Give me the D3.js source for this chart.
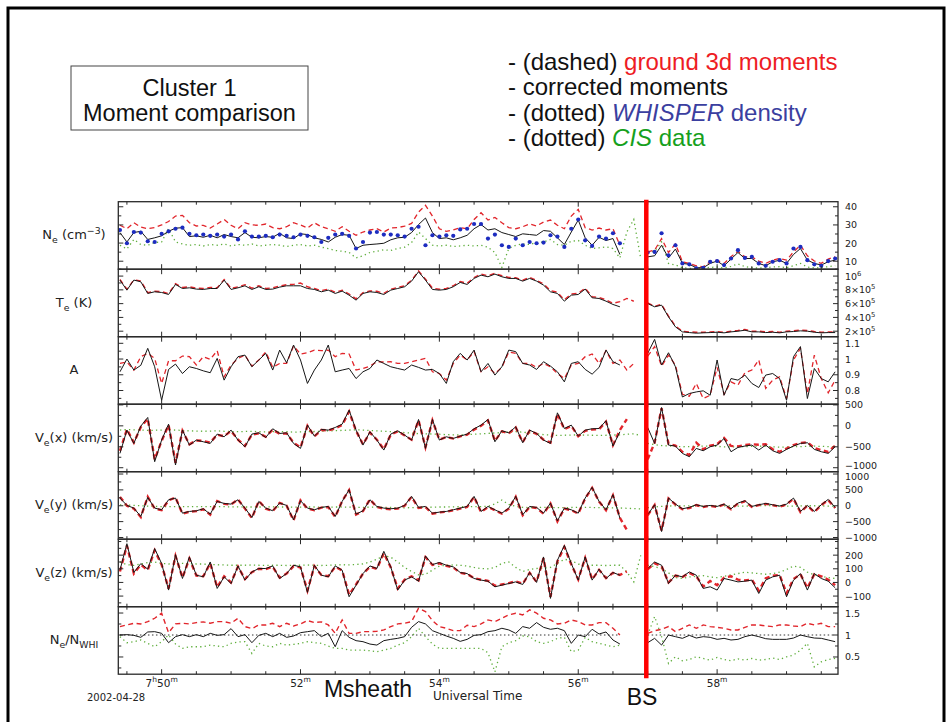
<!DOCTYPE html>
<html>
<head>
<meta charset="utf-8">
<script src="https://cdn.jsdelivr.net/npm/d3@7"></script>
<style>
  body { margin: 0; background: #fff; }
  svg { display: block; }
  .ax { font-family: "DejaVu Sans", sans-serif; fill: #222; }
  .slide { font-family: "Liberation Sans", Arial, sans-serif; }
</style>
</head>
<body>
<svg id="chart" width="952" height="722"></svg>
<script>
// time grid, minutes after 07:00 UT, 6 s samples
const step = 0.1;
const seg1Start = 49.4;   // magnetosheath interval
const seg2Start = 57.0;   // after the bow shock
const bowShockTime = 56.98;
const timeTicks = [50, 52, 54, 56, 58];
const timeTickLabels = ['7h50m', '52m', '54m', '56m', '58m'];

// Ne (cm^-3)
const neBlack1 = [25.8,20.6,25.8,26.5,22,22.9,24,26.5,28.2,28.5, 23.6,24,23.2,24.3,22.9,24.7,23.6,22.9,25.8,23.2, 22.9,23.6,23.2,25.4,22.9,22.5,25.1,24.7,22.9,22, 20.6,23.2,24.7,24.3,17,18.8,19.2,19.5,19.9,21.8, 22.9,23.2,25.8,30.2,33.8,25.8,22.5,22.9,21.8,22.9, 24.3,27.9,30.2,27.2,27.9,25.8,24.7,23.6,25.1, 24.7,24.3,26.9,26.5,22.9,19.2,26.1,32.7,22.9,18.8,23.2,21.4,22.5,13.7];
const neBlack2 = [12.4,13,18.8,11.8,16.7,8.8,8.3,6.4,6.4,8.8,10.1,7.5,11.2,14.8,11.5,11.5,8.8,7.5,9.7,10.5,8.8,13.7,17,10.6,8.8,7.9,9.7,10.6];
const neRed1 = [29.8,27.9,31.2,28.8,27.9,28.5,30,31.9,34.9,35.3, 31.2,29.4,29.8,28.3,30.5,33,29.8,27.9,31.2,30, 29.8,30.5,28.5,27.9,29,31.2,30,28.3,31.2,29, 27.9,26.5,29,26.5,24.3,26.1,27.2,27.9,26.1,28.3, 28.5,29.4,30.8,37.1,40.8,34.9,27.9,26.5,27.2,28.5, 27.9,33,36.7,32.7,34.1,31.2,28.5,27.9,29, 30.5,29.4,31.6,32.7,29.8,27.9,34.9,38.6,28.5,27.2,28.3,27.2,27.9,18.8];
const neRed2 = [15.1,16.1,22.5,14.8,19.5,9.7,8.8,7.5,6.9,9.7,10.6,8.8,12.4,15.5,12.4,12.4,10.1,8.8,10.6,11.5,10.6,15.1,18.8,13,10.1,8.8,11.2,12.4];
const neWhisper1 = [27.2,19.9,26.1,25.8,21,20.6,25.1,26.5,27.9,28.5, 25.1,24.3,24.7,24,24.7,23.6,24.7,22,26.5,23.6, 23.6,24,23.2,24.7,24,23.2,24.7,24,23.2,20.6, 22.9,24.7,25.1,24,17,20.6,25.8,26.1,24.7,24.7, 24.3,23.6,27.9,29,18.8,24.3,23.6,24.3,24,27.5, 27.9,30.5,30.5,22.5,24.7,18.8,17.9,22.5,18.8, 20.6,19.9,20.3,24.3,23.6,17.9,27.9,33,21.5,18.4,23.6,22.5,25.4,19.9];
const neWhisper2 = [14.8,15.1,25.4,13.3,18.8,8.8,8.3,6.1,6.4,9.7,10.1,7.9,11.5,16.1,11.8,12.4,8.8,7.5,9.7,10.6,8.8,17,17.9,10.6,8.3,7.5,10.1,11.5];
const neCis1 = [18.8,16.7,22,19.2,18.8,20.3,20.6,27.9,20.6,19.5, 18.8,19.2,18.4,19.2,18.8,19.5,18.4,19.2,18.8,19.5, 18.4,18.8,19.2,18.8,18.1,18.8,19.2,18.4,18.8,17.7, 17,15.9,15.5,14.8,11.8,13,14.8,15.5,16.3,15.9, 17,17.7,20.3,26.1,22.5,18.8,18.4,18.8,18.1,18.4, 18.8,18.4,18.8,17.7,14.8,6.6,17,18.8,19.5, 19.2,20.3,20.6,22,19.2,18.8,21,21.4,18.8,17,17.4,17.9,17,11.8,26.1,33,11.5];
const neCis2 = [14.8,15.5,20.6,8.8,7.9,6.4,6.1,6.1,6.3,6.6,6.8,6.2,7.2,8.5,7,6.5,6.2,6.5,6.8,7,6.4,7.5,8.8,6.8,6.3,6.5,7,7.5];

// Te (units of 1e5 K)
const teBlack1 = [9.42,7.96,9.42,9.17,7.48,7.72,7.62,7.33,8.79,8.2, 8.3,8.11,8.06,8.2,8.2,9.42,8.06,8.3,8.59,8.06, 8.45,8.06,8.11,8.4,8.59,8.59,8.59,8.2,8.06,7.72, 7.96,7.48,7.82,7.23,6.51,7.48,7.72,7.62,7.33,7.96, 8.2,8.45,9.27,10.63,9.42,8.06,7.96,8.06,8.45,9.08, 8.79,9.66,10.14,9.9,10.29,9.9,9.66,9.66,9.27, 9.66,9.27,8.69,7.72,7.48,6.36,7.23,7.33,8.11,6.85,6.75,6.36,5.88,5.54];
const teBlack2 = [6.02,5.54,5.78,4.08,2.63,1.9,1.8,1.71,1.76,1.8,1.85,1.76,1.9,2.0,2.14,1.9,1.9,1.8,1.85,1.76,1.9,1.95,2.05,2.0,1.85,1.76,1.8,1.8];
const teRed1 = [9.5,8.1,9.45,9.3,7.6,7.8,7.75,7.45,8.9,8.35, 8.45,8.25,8.2,8.35,8.3,9.5,8.2,8.45,8.75,8.25, 8.6,8.2,8.3,8.55,8.75,8.8,9.0,8.45,8.2,7.9, 8.1,7.65,7.95,7.4,6.7,7.6,7.85,7.8,7.5,8.1, 8.35,8.6,9.4,10.75,9.55,8.25,8.1,8.2,8.6,9.2, 8.95,9.8,10.3,10.05,10.4,10.05,9.8,9.75,9.4, 9.8,9.4,8.85,7.9,7.65,6.55,7.4,7.5,8.25,7.0,6.9,6.55,6.05,6.3,6.75,6.35];
const teRed2 = [6.1,5.6,5.9,4.2,2.75,2.0,1.9,1.85,1.85,1.9,1.95,1.85,2.0,2.1,2.25,2.0,2.0,1.9,1.95,1.85,2.0,2.05,2.15,2.1,1.95,1.85,1.9,1.9];

// anisotropy A
const aBlack1 = [0.919,1.0,0.93,0.96,1.068,0.951,0.738,0.934,0.968,0.908, 0.951,0.94,0.925,0.913,1.004,0.866,0.951,1.015,1.025,0.951, 0.994,1.036,0.93,1.057,0.976,1.089,0.994,0.845,0.93,0.994, 1.089,0.919,0.93,0.94,0.876,0.919,0.94,0.994,0.972,0.951, 0.94,0.93,0.962,0.947,0.93,0.934,0.908,0.845,0.983,1.036, 0.994,1.057,0.919,0.972,0.898,0.951,1.057,1.047,0.972, 0.962,0.934,0.983,0.955,0.919,0.855,0.972,0.983,0.934,0.904,0.947,1.057,0.983,0.962];
const aBlack2 = [1.036,1.125,0.962,1.04,0.951,0.759,0.781,0.791,0.798,0.77, 0.994,0.77,0.876,0.866,0.898,0.845,0.819,0.898,0.908,0.876, 0.738,1.015,1.079,0.749,0.94,0.876,0.855,0.919];
const aRed1 = [0.972,0.981,0.93,1.015,1.036,1.004,0.845,0.989,0.989,1.019, 1.015,0.962,1.015,0.998,1.053,0.887,0.962,1.004,1.025,0.955, 0.994,1.045,0.947,0.972,0.972,1.083,1.032,1.04,1.057,1.053, 1.057,1.015,1.036,1.032,0.93,0.94,0.955,0.983,0.981,0.983, 0.972,0.972,0.983,0.994,1.004,0.919,0.908,0.866,0.972,1.025, 0.994,1.047,0.919,0.951,0.908,0.947,1.045,1.036,0.972, 0.972,0.947,0.972,0.951,0.908,0.876,0.962,0.972,1.015,1.032,0.972,1.053,0.972,0.994,0.93,0.972];
const aRed2 = [1.019,1.079,0.955,1.025,0.962,0.776,0.764,0.845,0.749,0.77,0.947,0.776,0.855,0.834,0.913,0.93,0.994,0.813,0.866,0.887,0.749,0.994,1.068,0.781,1.025,0.876,0.785,0.866];

// Ve(x) km/s
const vxBlack1 = [-658,-102,-420,-7,200,-856,-340,41,-935,-102, -459,-340,-380,-420,-197,-261,-102,-340,-499,-197, -166,-277,-70,-182,-166,-420,-539,17,-245,-86, -102,-39,41,374,-102,-459,-142,-340,-578,-197, -118,-221,-340,152,-539,152,-340,-261,-301,-245, -197,-70,17,152,-380,-118,-166,-23,-404, -102,-182,-340,-420,311,-63,17,-245,-102,-70,-63,120,-483,-142];
const vxBlack2 = [-39,-420,438,-459,-483,-658,-737,-539,-594,-499,-459,-301,-618,-515,-483,-459,-578,-459,-594,-658,-562,-483,-420,-404,-562,-618,-658,-499];
const vxRed1 = [-600,-80,-400,-30,170,-800,-360,20,-880,-120, -440,-350,-360,-400,-210,-250,-120,-330,-480,-210, -180,-260,-90,-190,-180,-400,-520,0,-250,-100, -110,-60,20,340,-120,-440,-160,-330,-560,-210, -130,-230,-330,130,-510,130,-330,-270,-300,-250, -210,-90,0,130,-360,-130,-180,-40,-390,-120, -190,-330,-400,290,-80,0,-250,-120,-90,-80, 100,-460,-100,160];
const vxRed2 = [-800,-400,420,-430,-470,-620,-700,-400,-560,-470,-440,-290,-480,-490,-460,-440,-450,-440,-560,-620,-540,-460,-410,-390,-530,-580,-620,-470];
const vxCis1 = [-100,-90,-95,-100,-110,-105,-100,-95,-100,-110, -120,-125,-130,-125,-120,-130,-135,-140,-135,-130, -140,-145,-140,-135,-140,-150,-145,-140,-135,-130, -120,-115,-110,-100,-95,-100,-110,-120,-130,-140, -150,-160,-175,-185,-190,-195,-200,-210,-215,-220, -210,-200,-190,-180,-170,-160,-150,-140,-150,-170, -190,-210,-220,-230,-225,-220,-215,-220,-225,-230, -225,-220,-215,-200,-190,-230];
const vxCis2 = [-420,-450,-470,-480,-490,-500,-495,-490,-485,-480,-490,-500,-505,-500,-495,-490,-485,-490,-500,-510,-505,-500,-495,-490,-485,-490,-495,-500];

// Ve(y) km/s
const vyBlack1 = [242,10,-74,-338,263,-74,-127,189,242,-233, -180,-159,-95,-264,137,73,52,189,-74,-370, 137,-74,-159,84,10,-444,158,-74,-127,-53, -22,-338,137,506,-264,-159,189,-22,-74,-95, -74,10,295,-53,-22,-233,-201,-180,-127,-74, -22,295,-180,-22,-127,-233,-74,295,-285, -22,-53,-233,84,-476,-74,-127,-233,242,580,137,-127,348,-391];
const vyBlack2 = [-285,31,-813,242,52,-95,-53,31,-22,10,-22,52,-95,84,158,-22,31,73,31,-11,52,242,-180,10,-180,31,200,-53];
const vyRed1 = [280,0,-90,-360,280,-90,-140,170,260,-250, -190,-170,-110,-280,150,60,40,200,-90,-390, 150,-90,-170,90,0,-460,170,-90,-140,-60, -40,-350,150,490,-280,-170,200,-40,-90,-110, -90,0,280,-70,-40,-250,-210,-190,-140,-90, -40,280,-200,-40,-140,-250,-90,280,-300,-40, -70,-250,70,-490,-90,-140,-250,230,560,130, -140,330,-380,-760];
const vyRed2 = [-300,20,-780,230,40,-110,-70,20,-40,0,-40,40,-110,70,140,-40,20,60,20,-30,40,220,-200,0,-200,20,180,-70];
const vyCis1 = [30,20,10,0,-10,-20,-30,-30,-30,-30, -30,-25,-25,-30,-30,-30,-35,-35,-40,-40, -40,-35,-35,-40,-40,-45,-45,-40,-40,-45, -45,-40,-40,-45,-50,-50,-45,-45,-50,-55, -60,-65,-60,-55,-50,-45,-40,-40,-35,-30, -30,-30,-25,-20,60,180,40,-20,-50,-60, -55,-50,-55,-60,-60,-55,-50,-50,-55,-60, -60,-65,-70,-80,-90,-100];
const vyCis2 = [-60,-40,-20,-10,0,0,-5,-10,-10,-5,0,0,-5,-10,-10,-5,0,5,0,-5,-10,-10,-5,0,0,-5,-10,-10];

// Ve(z) km/s
const vzBlack1 = [90,284,73,138,97,248,138,-56,204,29, 187,53,41,150,-44,41,-8,121,17,77, 102,102,121,29,65,126,114,-73,126,53, 41,121,90,-105,-20,65,121,102,228,114, -56,17,41,9,194,131,146,126,114,73, 65,29,17,9,-32,-20,-8,4,-15, 73,0,187,-117,162,272,138,17,187,17,97,29,73,53];
const vzBlack2 = [102,150,126,-8,53,41,77,53,-44,-32,-56,29,17,4,9,17,-81,17,41,53,-105,17,65,-56,65,29,9,-39];
const vzRed1 = [80,270,65,130,90,235,130,-45,195,35, 175,50,45,140,-35,45,0,115,25,75, 100,98,115,35,65,120,110,-60,120,55, 45,115,88,-90,-15,65,115,100,215,110, -45,20,45,15,185,128,140,122,110,70, 62,32,20,12,-25,-15,-5,8,-10,70, 5,178,-105,155,260,132,22,180,22,92, 32,70,55,80];
const vzRed2 = [95,140,120,0,50,40,70,45,-30,10,-20,35,45,20,15,20,-60,30,50,55,-80,25,60,-40,60,45,20,-20];
const vzCis1 = [150,130,125,135,145,150,140,135,140,140, 138,135,135,130,130,128,126,126,126,128, 126,124,126,126,124,126,126,128,126,124, 126,128,130,128,132,136,150,170,195,185, 150,110,80,55,60,90,120,126,128,126, 120,110,102,100,110,140,150,110,80,95, 102,105,110,140,170,160,135,126,126,126, 124,126,126,77,4,199];
const vzCis2 = [126,115,102,70,35,30,40,45,50,40,35,45,55,65,75,70,65,60,65,75,95,120,110,75,55,45,35,29];

// Ne / N_WHISPER
const ratioBlack1 = [1.0,1.008,0.992,0.947,1.069,1.076,1.038,0.825,0.962,1.008, 0.962,1.008,0.962,1.038,0.992,1.008,1.145,0.962,1.008,0.825, 0.992,1.038,0.962,1.038,0.947,0.977,1.053,1.076,1.099,0.962, 1.038,0.733,1.099,0.947,0.871,0.848,0.794,0.771,0.871,0.901, 0.924,0.962,1.175,1.305,1.252,1.099,1.038,0.977,0.924,0.855, 0.901,0.992,1.008,1.076,1.099,1.153,1.115,1.038,1.191, 1.153,1.282,1.175,1.13,1.153,1.099,0.81,1.0,0.962,1.13,1.023,1.069,0.886,0.794];
const ratioBlack2 = [0.825,0.924,0.771,1.0,0.962,0.924,0.992,0.931,0.962,0.947,0.901,0.924,0.886,0.901,0.962,1.0,0.962,0.916,0.901,0.901,0.901,0.931,1.0,0.962,0.931,0.924,0.886,0.848];
const ratioRed1 = [1.191,1.229,1.267,1.252,1.305,1.381,1.496,1.053,1.252,1.267, 1.252,1.282,1.298,1.267,1.305,1.305,1.267,1.381,1.191,1.145, 1.229,1.229,1.267,1.191,1.267,1.206,1.252,1.328,1.282,1.298, 1.229,1.038,1.343,1.038,1.038,1.076,1.076,1.084,1.115,1.191, 1.252,1.267,1.305,1.61,1.534,1.328,1.191,1.153,1.099,1.099, 1.221,1.191,1.252,1.343,1.305,1.381,1.458,1.496,1.458, 1.572,1.496,1.381,1.343,1.252,1.267,1.343,1.305,1.229,1.229,1.282,1.282,1.153,1.0];
const ratioRed2 = [1.038,1.099,1.13,1.191,1.076,1.153,1.229,1.153,1.229,1.191,1.175,1.153,1.115,1.115,1.175,1.229,1.229,1.206,1.191,1.229,1.229,1.206,1.191,1.267,1.229,1.267,1.191,1.191];
const ratioCis1 = [0.962,0.825,0.848,0.886,0.81,0.733,0.848,1.0,0.794,0.695, 0.733,0.733,0.733,0.771,0.748,0.733,0.81,0.84,0.848,0.58, 0.81,0.748,0.733,0.81,0.771,0.786,0.81,0.848,0.825,0.81, 0.748,0.695,0.695,0.657,0.657,0.657,0.642,0.619,0.657,0.695, 0.771,0.825,0.962,1.153,0.962,0.794,0.695,0.695,0.695,0.695, 0.695,0.695,0.695,0.596,0.161,0.733,0.825,0.87,0.977, 0.962,0.848,0.81,0.848,0.924,0.947,0.619,0.657,0.947,0.848,0.81,0.771,0.733,0.771];
const ratioCis2 = [1.0,1.42,0.962,0.352,0.504,0.413,0.443,0.504,0.466,0.428,0.489,0.443,0.413,0.458,0.428,0.466,0.428,0.443,0.474,0.443,0.504,0.542,0.657,0.81,0.275,0.39,0.443,0.466];
const ratioRef = [1, 1];

// right-hand axis ticks
const neTicks = [10, 20, 30, 40];
const teTicks = [2, 4, 6, 8, 10];
const teTickLabels = [['2×10', '5'], ['4×10', '5'], ['6×10', '5'], ['8×10', '5'], ['10', '6']];
const aTicks = [0.8, 0.9, 1, 1.1];
const vxTicks = [-1000, -500, 0, 500];
const vyTicks = [-1000, -500, 0, 500, 1000];
const vzTicks = [-100, 0, 100, 200];
const ratioTicks = [0.5, 1, 1.5];

const svg = d3.select('#chart');
const defs = svg.append('defs');

const plotLeft = 118.3, plotRight = 838, plotTop = 201.7, plotBottom = 674.2;
const panelH = (plotBottom - plotTop) / 7;
const x = d3.scaleLinear().domain([49.376, 59.741]).range([plotLeft, plotRight]);

const panels = [
  { domain: [5.6, 42.8], ticks: neTicks, minor: 5, redW: 1.3,
    label: [['N'], ['e', 'sub'], [' (cm'], ['−3', 'sup'], [')']],
    cis: [neCis1, neCis2], red: [neRed1, neRed2], black: [neBlack1, neBlack2], dots: [neWhisper1, neWhisper2] },
  { domain: [1.2, 11.0], ticks: teTicks, tickLabels: teTickLabels, minor: 1, redW: 1.4,
    label: [['T'], ['e', 'sub'], [' (K)']],
    red: [teRed1, teRed2], black: [teBlack1, teBlack2] },
  { domain: [0.713, 1.142], ticks: aTicks, minor: 0.05, redW: 1.3,
    label: [['A']],
    red: [aRed1, aRed2], black: [aBlack1, aBlack2] },
  { domain: [-1095, 517], ticks: vxTicks, minor: 250, redW: 2.4, nudge: { '-1000': -2.5 },
    label: [['V'], ['e', 'sub'], ['(x) (km/s)']],
    cis: [vxCis1, vxCis2], red: [vxRed1, vxRed2], black: [vxBlack1, vxBlack2] },
  { domain: [-1054, 1073], ticks: vyTicks, minor: 250, redW: 2.4, nudge: { '1000': 2.5 },
    label: [['V'], ['e', 'sub'], ['(y) (km/s)']],
    cis: [vyCis1, vyCis2], red: [vyRed1, vyRed2], black: [vyBlack1, vyBlack2] },
  { domain: [-178, 317], ticks: vzTicks, minor: 50, redW: 2.4,
    label: [['V'], ['e', 'sub'], ['(z) (km/s)']],
    cis: [vzCis1, vzCis2], red: [vzRed1, vzRed2], black: [vzBlack1, vzBlack2] },
  { domain: [0.108, 1.644], ticks: ratioTicks, minor: 0.25, redW: 1.4, ref: ratioRef,
    label: [['N'], ['e', 'sub'], ['/N'], ['WHI', 'sub']],
    cis: [ratioCis1, ratioCis2], red: [ratioRed1, ratioRed2], black: [ratioBlack1, ratioBlack2] }
];

// text with sub/superscripts
function richText(sel, parts, size) {
  let shift = 0;
  parts.forEach(([txt, kind]) => {
    const target = kind === 'sup' ? -size * 0.42 : kind === 'sub' ? size * 0.3 : 0;
    const ts = sel.append('tspan').attr('dy', target - shift).text(txt);
    if (kind) ts.attr('font-size', size * 0.72);
    shift = target;
  });
}

function toPoints(arr, start) {
  return arr.map((v, i) => ({ t: start + i * step, v: v }));
}

const fmt = v => String(v).replace('-', '−');

panels.forEach((p, k) => {
  const top = plotTop + k * panelH, bottom = top + panelH;
  const y = d3.scaleLinear().domain(p.domain).range([bottom, top]);
  const line = d3.line().defined(d => d.v != null).x(d => x(d.t)).y(d => y(d.v));

  defs.append('clipPath').attr('id', 'clip' + k)
    .append('rect').attr('x', plotLeft).attr('y', top).attr('width', plotRight - plotLeft).attr('height', panelH);

  const g = svg.append('g').attr('class', 'panel');
  const data = g.append('g').attr('clip-path', `url(#clip${k})`);

  if (p.ref) {
    [[seg1Start, seg1Start + 72 * step], [seg2Start, seg2Start + 27 * step]].forEach(([t0, t1]) => {
      data.append('path')
        .attr('d', line([{ t: t0, v: p.ref[0] }, { t: t1, v: p.ref[1] }]))
        .attr('fill', 'none').attr('stroke', '#333').attr('stroke-width', 1).attr('stroke-dasharray', '1.5,2.5');
    });
  }

  if (p.cis) {
    [[p.cis[0], seg1Start], [p.cis[1], seg2Start]].forEach(([arr, t0]) => {
      data.append('path').attr('d', line(toPoints(arr, t0)))
        .attr('fill', 'none').attr('stroke', '#5fae3c').attr('stroke-width', 1.3)
        .attr('stroke-dasharray', '1.3,3.2');
    });
  }

  [[p.red[0], seg1Start], [p.red[1], seg2Start]].forEach(([arr, t0]) => {
    data.append('path').attr('d', line(toPoints(arr, t0)))
      .attr('fill', 'none').attr('stroke', '#e1252b').attr('stroke-width', p.redW)
      .attr('stroke-dasharray', '5,3.5');
  });

  [[p.black[0], seg1Start], [p.black[1], seg2Start]].forEach(([arr, t0]) => {
    data.append('path').attr('d', line(toPoints(arr, t0)))
      .attr('fill', 'none').attr('stroke', '#161616').attr('stroke-width', 1);
  });

  if (p.dots) {
    const pts = toPoints(p.dots[0], seg1Start).concat(toPoints(p.dots[1], seg2Start));
    data.selectAll('circle').data(pts).enter().append('circle')
      .attr('cx', d => x(d.t)).attr('cy', d => y(d.v)).attr('r', 2.1)
      .attr('fill', '#1d2cc0');
  }

  // frame
  g.append('rect').attr('x', plotLeft).attr('y', top).attr('width', plotRight - plotLeft).attr('height', panelH)
    .attr('fill', 'none').attr('stroke', '#2a2a2a').attr('stroke-width', 1.3);

  // time ticks top and bottom
  const tMinor = d3.range(49.5, 59.75, 0.5);
  tMinor.forEach(t => {
    const len = timeTicks.includes(t) ? 5 : 3;
    g.append('line').attr('x1', x(t)).attr('x2', x(t)).attr('y1', top).attr('y2', top + len)
      .attr('stroke', '#2a2a2a').attr('stroke-width', 1);
    g.append('line').attr('x1', x(t)).attr('x2', x(t)).attr('y1', bottom).attr('y2', bottom - len)
      .attr('stroke', '#2a2a2a').attr('stroke-width', 1);
  });

  // value ticks left and right
  const d0 = p.domain[0], d1 = p.domain[1];
  const minors = d3.range(Math.ceil(d0 / p.minor), Math.floor(d1 / p.minor) + 1).map(n => n * p.minor);
  minors.forEach(v => {
    const major = p.ticks.some(t => Math.abs(t - v) < 1e-6);
    const len = major ? 5 : 3;
    g.append('line').attr('x1', plotLeft).attr('x2', plotLeft + len).attr('y1', y(v)).attr('y2', y(v))
      .attr('stroke', '#2a2a2a').attr('stroke-width', 1);
    g.append('line').attr('x1', plotRight).attr('x2', plotRight - len).attr('y1', y(v)).attr('y2', y(v))
      .attr('stroke', '#2a2a2a').attr('stroke-width', 1);
  });

  p.ticks.forEach((v, i) => {
    const nudge = (p.nudge && p.nudge[String(v)]) || 0;
    const t = g.append('text').attr('class', 'ax').attr('x', plotRight + 7).attr('y', y(v) + 3.5 + nudge)
      .attr('font-size', 9.5);
    if (p.tickLabels) richText(t, [[p.tickLabels[i][0]], [p.tickLabels[i][1], 'sup']], 9.5);
    else t.text(fmt(v));
  });

  const lab = g.append('text').attr('class', 'ax').attr('x', 74).attr('y', (top + bottom) / 2 + 4)
    .attr('text-anchor', 'middle').attr('font-size', 13);
  richText(lab, p.label, 13);
});

// time axis labels
timeTicks.forEach((t, i) => {
  const parts = timeTickLabels[i].split(/([hm])/).filter(s => s).map(s => (s === 'h' || s === 'm') ? [s, 'sup'] : [s]);
  const tx = svg.append('text').attr('class', 'ax').attr('x', x(t)).attr('y', plotBottom + 12.5)
    .attr('text-anchor', 'middle').attr('font-size', 10.5);
  richText(tx, parts, 10.5);
});

svg.append('text').attr('class', 'ax').attr('x', 87).attr('y', 700.5).attr('font-size', 10).text('2002-04-28');
svg.append('text').attr('class', 'ax').attr('x', 433).attr('y', 700).attr('font-size', 12).text('Universal Time');

// bow shock marker
svg.append('line').attr('x1', x(bowShockTime)).attr('x2', x(bowShockTime)).attr('y1', plotTop - 2).attr('y2', plotBottom + 4)
  .attr('stroke', '#ff0000').attr('stroke-width', 4.5);

svg.append('text').attr('class', 'slide').attr('x', 368).attr('y', 697).attr('text-anchor', 'middle')
  .attr('font-size', 23).attr('fill', '#111').text('Msheath');
svg.append('text').attr('class', 'slide').attr('x', 642).attr('y', 705).attr('text-anchor', 'middle')
  .attr('font-size', 23).attr('fill', '#111').text('BS');

// title box
svg.append('rect').attr('x', 71).attr('y', 66).attr('width', 237).attr('height', 64)
  .attr('fill', 'none').attr('stroke', '#444').attr('stroke-width', 1);
svg.append('text').attr('class', 'slide').attr('x', 189.5).attr('y', 96).attr('text-anchor', 'middle')
  .attr('font-size', 23.5).attr('fill', '#111').text('Cluster 1');
svg.append('text').attr('class', 'slide').attr('x', 189.5).attr('y', 121).attr('text-anchor', 'middle')
  .attr('font-size', 23.5).attr('fill', '#111').text('Moment comparison');

// legend text
const legendLines = [
  [['- (dashed) ', '#111', false], ['ground 3d moments', '#ee1c24', false]],
  [['- corrected moments', '#111', false]],
  [['- (dotted) ', '#111', false], ['WHISPER', '#3b3fa0', true], [' density', '#3b3fa0', false]],
  [['- (dotted) ', '#111', false], ['CIS', '#16a01c', true], [' data', '#16a01c', false]]
];
legendLines.forEach((parts, i) => {
  const t = svg.append('text').attr('class', 'slide').attr('x', 508).attr('y', 70 + i * 25.3).attr('font-size', 24);
  parts.forEach(([txt, col, it]) => {
    t.append('tspan').attr('fill', col).attr('font-style', it ? 'italic' : 'normal').text(txt);
  });
});

// slide frame
svg.append('path').attr('d', 'M8,722 V8 H944 V722').attr('fill', 'none').attr('stroke', '#000').attr('stroke-width', 3);
</script>
</body>
</html>
